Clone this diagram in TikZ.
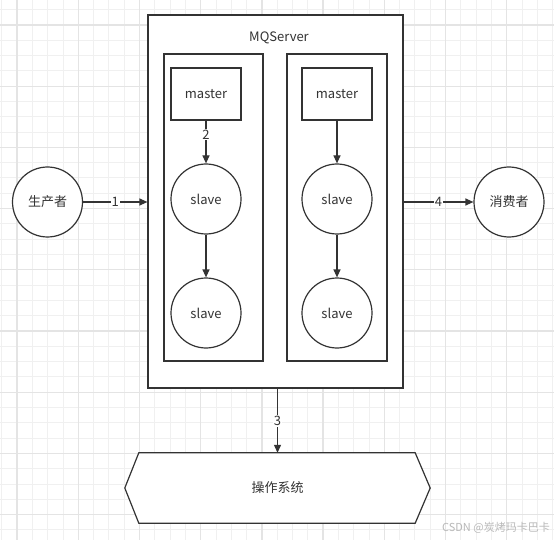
\documentclass[tikz,border=0pt]{standalone}
\usepackage{fontspec}
\setmainfont{Noto Sans CJK SC}
\usetikzlibrary{arrows.meta}
\definecolor{ink}{HTML}{333333}
\definecolor{gridminor}{HTML}{F0F0F0}
\definecolor{gridmajor}{HTML}{E4E4E4}
\definecolor{wm}{HTML}{B8B8B8}
\tikzset{
  base/.style={draw=ink, line width=1.2pt, text=ink, font=\fontsize{13}{15}\selectfont, inner sep=0pt},
  boxnode/.style={base, rectangle},
  circnode/.style={base, circle, minimum size=70pt, fill=white},
  arr/.style={draw=ink, line width=1.2pt, -{Triangle[length=8pt,width=7pt]}},
  lbl/.style={fill=white, text=ink, inner sep=1pt, font=\fontsize{13}{15}\selectfont},
}
\begin{document}
\begin{tikzpicture}[x=1pt,y=-1pt]
\useasboundingbox (0,0) rectangle (554,540);
\fill[white] (0,0) rectangle (554,540);
% grid
\foreach \i in {0,...,36}{\pgfmathsetmacro\xx{1.8+\i*15.3}\draw[gridminor, line width=1pt] (\xx,0) -- (\xx,540);}
\foreach \j in {0,...,35}{\pgfmathsetmacro\yy{9.7+\j*15.3}\draw[gridminor, line width=1pt] (0,\yy) -- (554,\yy);}
\foreach \i in {1,5,...,36}{\pgfmathsetmacro\xx{1.8+\i*15.3}\draw[gridmajor, line width=1.3pt] (\xx,0) -- (\xx,540);}
\foreach \j in {1,5,...,35}{\pgfmathsetmacro\yy{9.7+\j*15.3}\draw[gridmajor, line width=1.3pt] (0,\yy) -- (554,\yy);}
% MQ server
\node[boxnode, fill=white, minimum width=255pt, minimum height=373pt] (mq) at (275.5,201.5) {};
\node[text=ink, font=\fontsize{13}{15}\selectfont] (mqt) at (279,38) {MQServer};
\node[boxnode, minimum width=99pt, minimum height=307pt] (gl) at (213.5,207.5) {};
\node[boxnode, minimum width=100pt, minimum height=307pt] (gr) at (337,207.5) {};
\node[boxnode, minimum width=70pt, minimum height=52pt] (ml) at (206,94) {master};
\node[boxnode, minimum width=70pt, minimum height=52pt] (mr) at (337,94) {master};
\node[circnode] (s1l) at (206,199) {slave};
\node[circnode] (s2l) at (206,313) {slave};
\node[circnode] (s1r) at (337,199) {slave};
\node[circnode] (s2r) at (337,313) {slave};
% producer & consumer
\node[circnode] (prod) at (47.5,202) {生产者};
\node[circnode] (cons) at (509,202) {消费者};
% OS
\coordinate (osc) at (277.5,488);
\node[minimum width=305pt, minimum height=70pt, inner sep=0pt] (osbox) at (osc) {};
\draw[ink, line width=1.2pt, fill=white] ([xshift=14pt]osbox.north west) -- ([xshift=-15pt]osbox.north east) -- (osbox.east) -- ([xshift=-15pt]osbox.south east) -- ([xshift=14pt]osbox.south west) -- (osbox.west) -- cycle;
\node[text=ink, font=\fontsize{13}{15}\selectfont] (ostext) at (osc) {操作系统};
% arrows
\draw[arr] (prod.east) -- node[lbl]{1} (prod.east -| mq.west);
\draw[arr] (cons.west -| mq.east) -- node[lbl]{4} (cons.west);
\draw[arr] (ml.south) -- node[lbl, pos=0.33]{2} (s1l.north);
\draw[arr] (s1l.south) -- (s2l.north);
\draw[arr] (mr.south) -- (s1r.north);
\draw[arr] (s1r.south) -- (s2r.north);
\draw[arr] (osbox.north |- mq.south) -- node[lbl]{3} (osbox.north);
% watermark
\node[text=wm, font=\fontsize{11}{13}\selectfont, anchor=east, inner sep=0pt] (wmk) at (550,528) {CSDN @炭烤玛卡巴卡};
\end{tikzpicture}
\end{document}
